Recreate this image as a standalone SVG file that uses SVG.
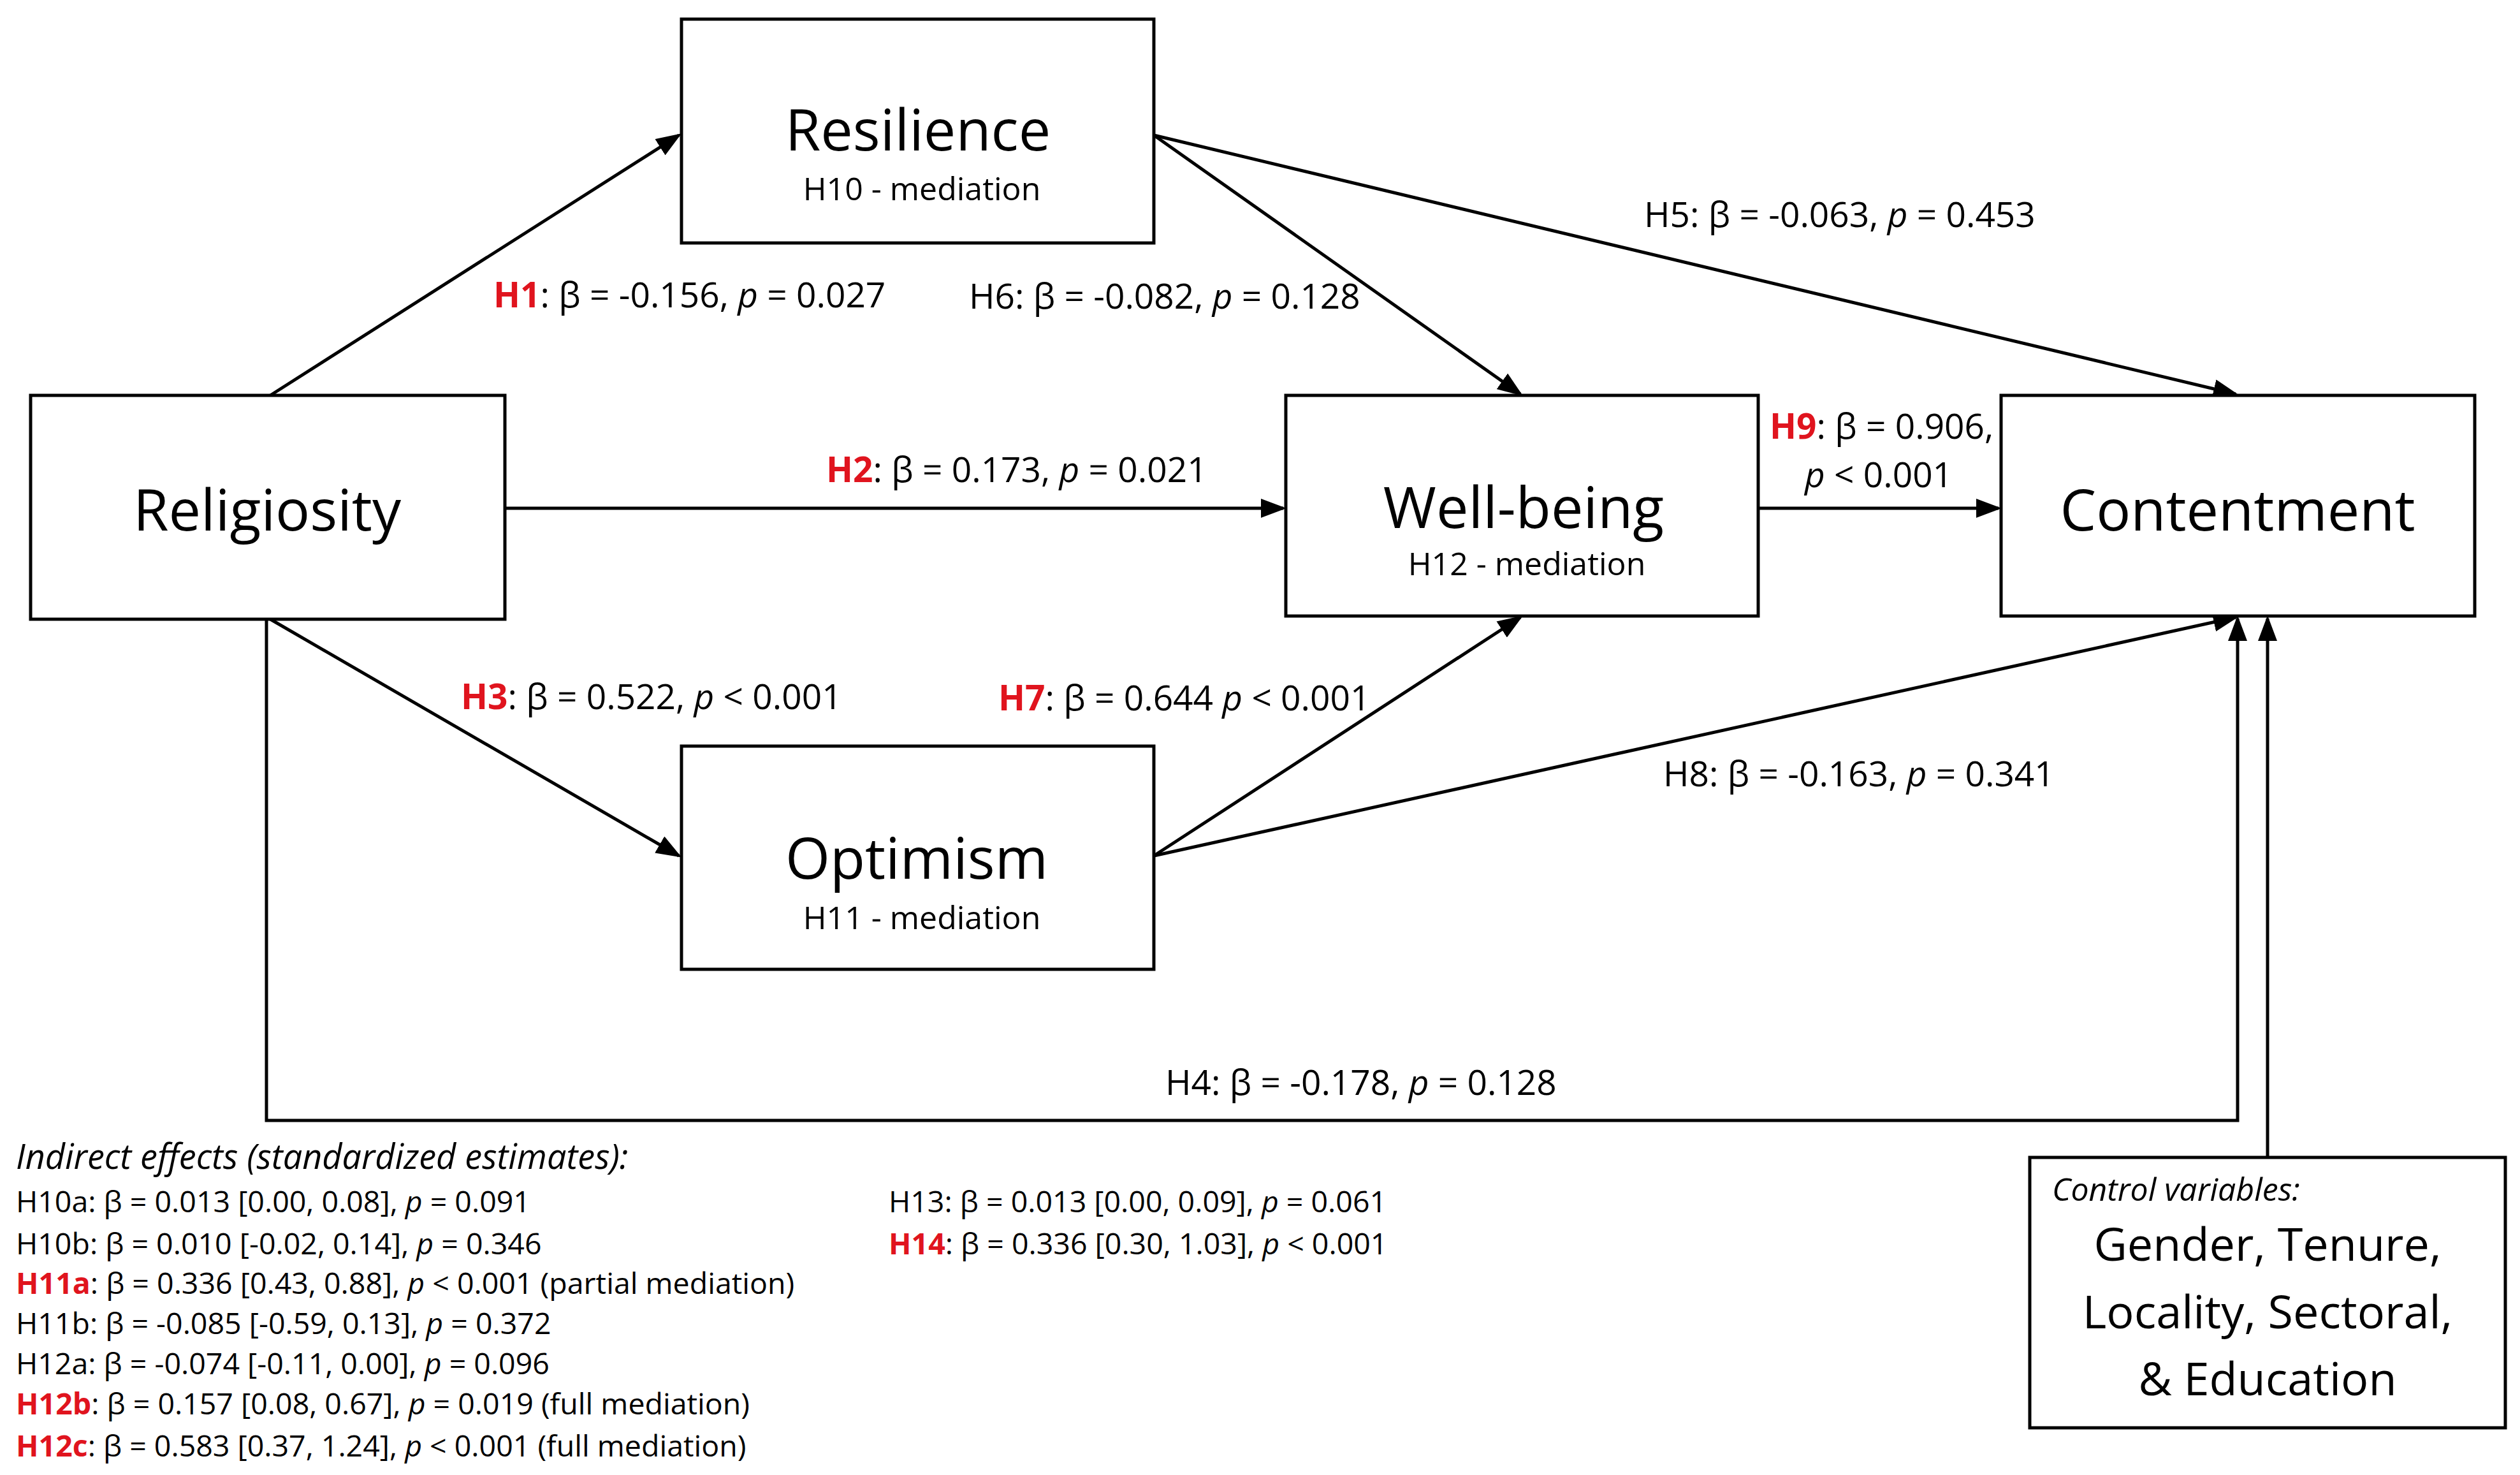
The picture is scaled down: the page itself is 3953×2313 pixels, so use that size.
<svg xmlns="http://www.w3.org/2000/svg" width="3953" height="2313" viewBox="0 0 3953 2313">
<style>
text{font-family:"Open Sans","Noto Sans",sans-serif;fill:#000}
.box{fill:#fff;stroke:#000;stroke-width:5}
.t{font-size:90px;text-anchor:middle}
.s{font-size:50px;text-anchor:middle}
.e{font-size:55px}
.i{font-size:46.5px}
.r{fill:#e0141e;font-weight:bold}
.c{fill:none;stroke:#000;stroke-width:5;marker-end:url(#a)}
</style>
<defs><marker id="a" markerWidth="8" markerHeight="6" refX="7" refY="3" orient="auto" markerUnits="strokeWidth"><path d="M0,0L8,3L0,6z" fill="#000"/></marker></defs>
<rect width="3953" height="2313" fill="#fff"/>
<g id="connectors">
<path class="c" d="M424,620L1065,212"/>
<path class="c" d="M1810,212L2385,618"/>
<path class="c" d="M1810,212L3507,618"/>
<path class="c" d="M792,797L2013,797"/>
<path class="c" d="M2758,797L3135,797"/>
<path class="c" d="M424,971L1065,1342"/>
<path class="c" d="M1810,1342L2385,968"/>
<path class="c" d="M1810,1342L3507,968"/>
<path class="c" d="M418,971L418,1757L3510,1757L3510,970"/>
<path class="c" d="M3557,1815L3557,970"/>
</g>
<g id="resilience"><rect class="box" x="1069" y="30" width="741" height="351"/><text class="t" x="1440" y="236">Resilience</text><text class="s" x="1446" y="314">H10 - mediation</text></g>
<g id="religiosity"><rect class="box" x="48" y="620" width="744" height="351"/><text class="t" x="419" y="832">Religiosity</text></g>
<g id="wellbeing"><rect class="box" x="2017" y="620" width="741" height="346"/><text class="t" x="2390" y="828">Well-being</text><text class="s" x="2395" y="902">H12 - mediation</text></g>
<g id="contentment"><rect class="box" x="3139" y="620" width="743" height="346"/><text class="t" x="3510" y="832">Contentment</text></g>
<g id="optimism"><rect class="box" x="1069" y="1170" width="741" height="350"/><text class="t" x="1438" y="1378">Optimism</text><text class="s" x="1446" y="1457">H11 - mediation</text></g>
<g id="control"><rect class="box" x="3184" y="1815" width="746" height="424"/><text x="3219" y="1883" style="font-style:italic;font-size:50px">Control variables:</text><text class="t" x="3557" y="1977" style="font-size:72px">Gender, Tenure,</text><text class="t" x="3557" y="2083" style="font-size:72px">Locality, Sectoral,</text><text class="t" x="3557" y="2188" style="font-size:72px">&amp; Education</text></g>
<g id="labels">
<text class="e" x="774" y="482"><tspan class="r">H1</tspan>: β = -0.156, <tspan font-style="italic">p</tspan> = 0.027</text>
<text class="e" x="1520" y="484">H6: β = -0.082, <tspan font-style="italic">p</tspan> = 0.128</text>
<text class="e" x="2579" y="356">H5: β = -0.063, <tspan font-style="italic">p</tspan> = 0.453</text>
<text class="e" x="1296" y="756"><tspan class="r">H2</tspan>: β = 0.173, <tspan font-style="italic">p</tspan> = 0.021</text>
<text class="e" x="2776" y="688"><tspan class="r">H9</tspan>: β = 0.906,</text>
<text class="e" x="2831" y="764"><tspan font-style="italic">p</tspan> &lt; 0.001</text>
<text class="e" x="723" y="1112"><tspan class="r">H3</tspan>: β = 0.522, <tspan font-style="italic">p</tspan> &lt; 0.001</text>
<text class="e" x="1566" y="1114"><tspan class="r">H7</tspan>: β = 0.644 <tspan font-style="italic">p</tspan> &lt; 0.001</text>
<text class="e" x="2609" y="1233">H8: β = -0.163, <tspan font-style="italic">p</tspan> = 0.341</text>
<text class="e" x="1828" y="1717">H4: β = -0.178, <tspan font-style="italic">p</tspan> = 0.128</text>
</g>
<g id="indirect">
<text x="25" y="1833" style="font-style:italic;font-size:54px">Indirect effects (standardized estimates):</text>
<text class="i" x="25" y="1901">H10a: β = 0.013 [0.00, 0.08], <tspan font-style="italic">p</tspan> = 0.091</text>
<text class="i" x="25" y="1967">H10b: β = 0.010 [-0.02, 0.14], <tspan font-style="italic">p</tspan> = 0.346</text>
<text class="i" x="25" y="2029"><tspan class="r">H11a</tspan>: β = 0.336 [0.43, 0.88], <tspan font-style="italic">p</tspan> &lt; 0.001 (partial mediation)</text>
<text class="i" x="25" y="2092">H11b: β = -0.085 [-0.59, 0.13], <tspan font-style="italic">p</tspan> = 0.372</text>
<text class="i" x="25" y="2155">H12a: β = -0.074 [-0.11, 0.00], <tspan font-style="italic">p</tspan> = 0.096</text>
<text class="i" x="25" y="2218"><tspan class="r">H12b</tspan>: β = 0.157 [0.08, 0.67], <tspan font-style="italic">p</tspan> = 0.019 (full mediation)</text>
<text class="i" x="25" y="2284"><tspan class="r">H12c</tspan>: β = 0.583 [0.37, 1.24], <tspan font-style="italic">p</tspan> &lt; 0.001 (full mediation)</text>
<text class="i" x="1394" y="1901">H13: β = 0.013 [0.00, 0.09], <tspan font-style="italic">p</tspan> = 0.061</text>
<text class="i" x="1394" y="1967"><tspan class="r">H14</tspan>: β = 0.336 [0.30, 1.03], <tspan font-style="italic">p</tspan> &lt; 0.001</text>
</g>
</svg>
